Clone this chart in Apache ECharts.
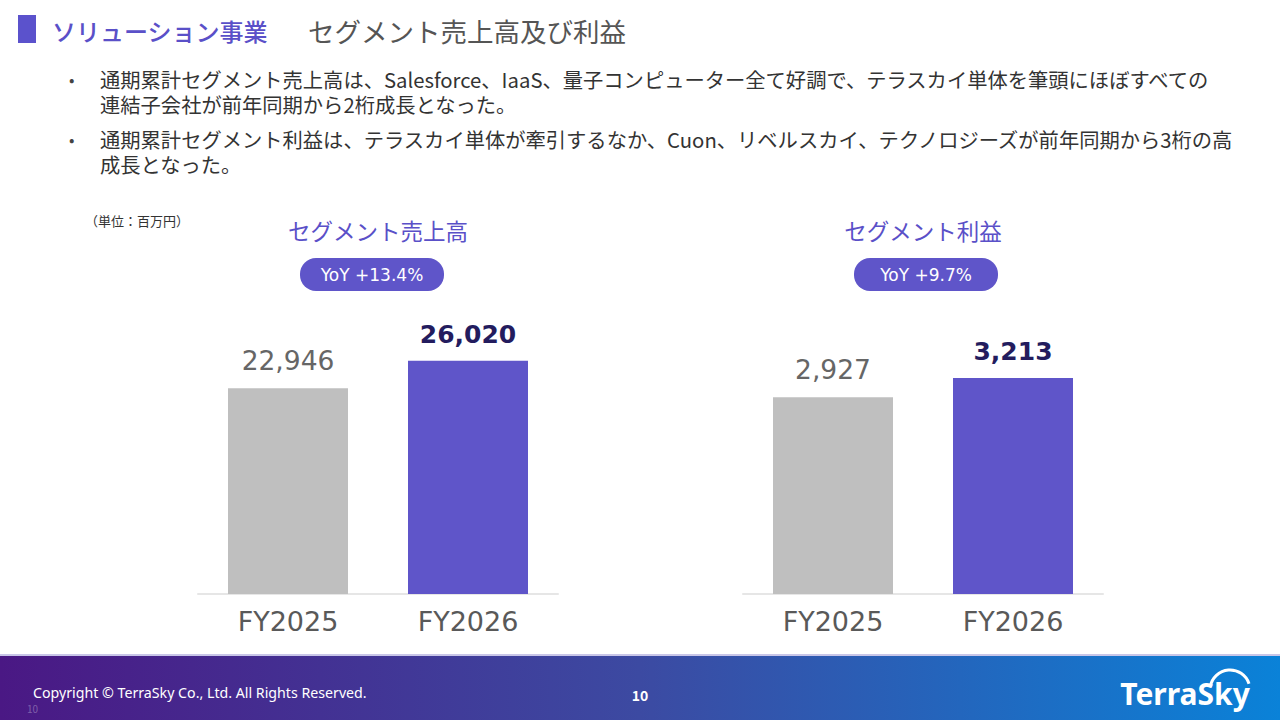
<!DOCTYPE html>
<html>
<head>
<meta charset="utf-8">
<script src="https://cdn.jsdelivr.net/npm/echarts@6/dist/echarts.min.js"></script>
<style>
  html, body { margin: 0; padding: 0; background: #fff; }
  #chart { width: 1280px; height: 720px; }
</style>
</head>
<body>
<div id="chart"></div>
<script>
const categories = ['FY2025', 'FY2026'];
const salesValues = [22946, 26020];
const profitValues = [2927, 3213];
const panelTitles = ['セグメント売上高', 'セグメント利益'];
const yoyLabels = ['YoY +13.4%', 'YoY +9.7%'];
const bullets = [
  ['通期累計セグメント売上高は、Salesforce、IaaS、量子コンピューター全て好調で、テラスカイ単体を筆頭にほぼすべての',
   '連結子会社が前年同期から2桁成長となった。'],
  ['通期累計セグメント利益は、テラスカイ単体が牽引するなか、Cuon、リベルスカイ、テクノロジーズが前年同期から3桁の高',
   '成長となった。']
];

const FONT = '"Noto Sans CJK JP", "Noto Sans", sans-serif';
const NUM_FONT = '"DejaVu Sans", "Noto Sans", sans-serif';
const PURPLE = '#5f55c9';
const GRAY = '#bfbfbf';

function barData(values) {
  return values.map((v, i) => ({
    value: v,
    itemStyle: { color: i === 0 ? GRAY : PURPLE },
    label: i === 0
      ? { color: '#666666', fontWeight: 'normal', fontSize: 26.5 }
      : { color: '#231c5e', fontWeight: 'bold', fontSize: 25 }
  }));
}

function text(x, y, str, opts) {
  return {
    type: 'text',
    x: x, y: y,
    style: Object.assign({
      text: str, fill: '#333', fontFamily: FONT, fontSize: 19,
      align: 'left', verticalAlign: 'middle'
    }, opts || {})
  };
}

const graphics = [];
// header
graphics.push({ type: 'rect', shape: { x: 18, y: 15, width: 18, height: 28 }, style: { fill: '#5b52cc' } });
graphics.push(text(52, 30, 'ソリューション事業', { fill: '#5a50c8', fontSize: 24, fontWeight: 500 }));
graphics.push(text(308, 30, 'セグメント売上高及び利益', { fill: '#555', fontSize: 26.5 }));
// bullets (each bullet is one two-line text block)
const bulletY = [79, 139];
bullets.forEach((lines, i) => {
  graphics.push(text(69, bulletY[i], '•', { fill: '#444', fontSize: 16 }));
  graphics.push(text(100, bulletY[i] + 12.5, lines.join('\n'), { fill: '#333', fontSize: 20.3, lineHeight: 25 }));
});
graphics.push(text(85, 220, '（単位：百万円）', { fill: '#333', fontSize: 13 }));
// panel titles and pills
const titleCenters = [378, 923];
const pillCenters = [372, 926];
titleCenters.forEach((cx, i) => {
  graphics.push(text(cx, 230, panelTitles[i], { fill: '#5a50c8', fontSize: 22.5, align: 'center' }));
  const px = pillCenters[i];
  graphics.push({ type: 'rect', shape: { x: px - 72, y: 258, width: 144, height: 33, r: 16 }, style: { fill: PURPLE } });
  graphics.push(text(px, 275, yoyLabels[i], { fill: '#fff', fontSize: 17, align: 'center', fontFamily: NUM_FONT }));
});
// footer
graphics.push({
  type: 'rect', shape: { x: 0, y: 655, width: 1280, height: 65 },
  style: {
    fill: new echarts.graphic.LinearGradient(0, 0, 1, 0, [
      { offset: 0, color: '#4a1884' },
      { offset: 0.5, color: '#3c4aa2' },
      { offset: 1, color: '#0a82d8' }
    ])
  }
});
graphics.push({ type: 'rect', shape: { x: 0, y: 654, width: 1280, height: 2 }, style: { fill: '#c9c6e8' } });
graphics.push(text(27, 708, '10', { fill: 'rgba(255,255,255,0.3)', fontSize: 10 }));
graphics.push(text(33, 692, 'Copyright © TerraSky Co., Ltd. All Rights Reserved.', { fill: '#fff', fontSize: 14.2, fontFamily: '"Noto Sans", sans-serif' }));
graphics.push(text(640, 695, '10', { fill: '#fff', fontSize: 14, fontWeight: 'bold', align: 'center' }));
graphics.push(text(1185, 693, 'TerraSky', { fill: '#fff', fontSize: 30, fontWeight: 'bold', align: 'center', fontFamily: '"Noto Sans", sans-serif' }));
graphics.push({
  type: 'arc', shape: { cx: 1230, cy: 690, r: 20, startAngle: Math.PI * 1.05, endAngle: Math.PI * 1.9 },
  style: { stroke: '#fff', lineWidth: 3, fill: 'none' }
});

const gridTop = 325, gridH = 269;
const chart = echarts.init(document.getElementById('chart'), null, { renderer: 'svg' });
const axisX = (idx) => ({
  type: 'category', gridIndex: idx, data: categories,
  axisLine: { lineStyle: { color: '#e6e6e6', width: 2 } },
  axisTick: { show: false },
  axisLabel: { color: '#595959', fontSize: 27, fontFamily: NUM_FONT, margin: 14 }
});
const axisY = (idx, max) => ({
  type: 'value', gridIndex: idx, min: 0, max: max, show: false, splitLine: { show: false }
});
const labelCfg = {
  show: true, position: 'top', distance: 14, fontFamily: NUM_FONT,
  formatter: (p) => p.value.toLocaleString('en-US')
};
chart.setOption({
  animation: false,
  graphic: graphics,
  grid: [
    { left: 198, width: 360, top: gridTop, height: gridH },
    { left: 743, width: 360, top: gridTop, height: gridH }
  ],
  xAxis: [axisX(0), axisX(1)],
  yAxis: [axisY(0, 30000), axisY(1, 4000)],
  series: [
    { type: 'bar', xAxisIndex: 0, yAxisIndex: 0, barWidth: 120, data: barData(salesValues), label: labelCfg },
    { type: 'bar', xAxisIndex: 1, yAxisIndex: 1, barWidth: 120, data: barData(profitValues), label: labelCfg }
  ]
});
</script>
</body>
</html>
